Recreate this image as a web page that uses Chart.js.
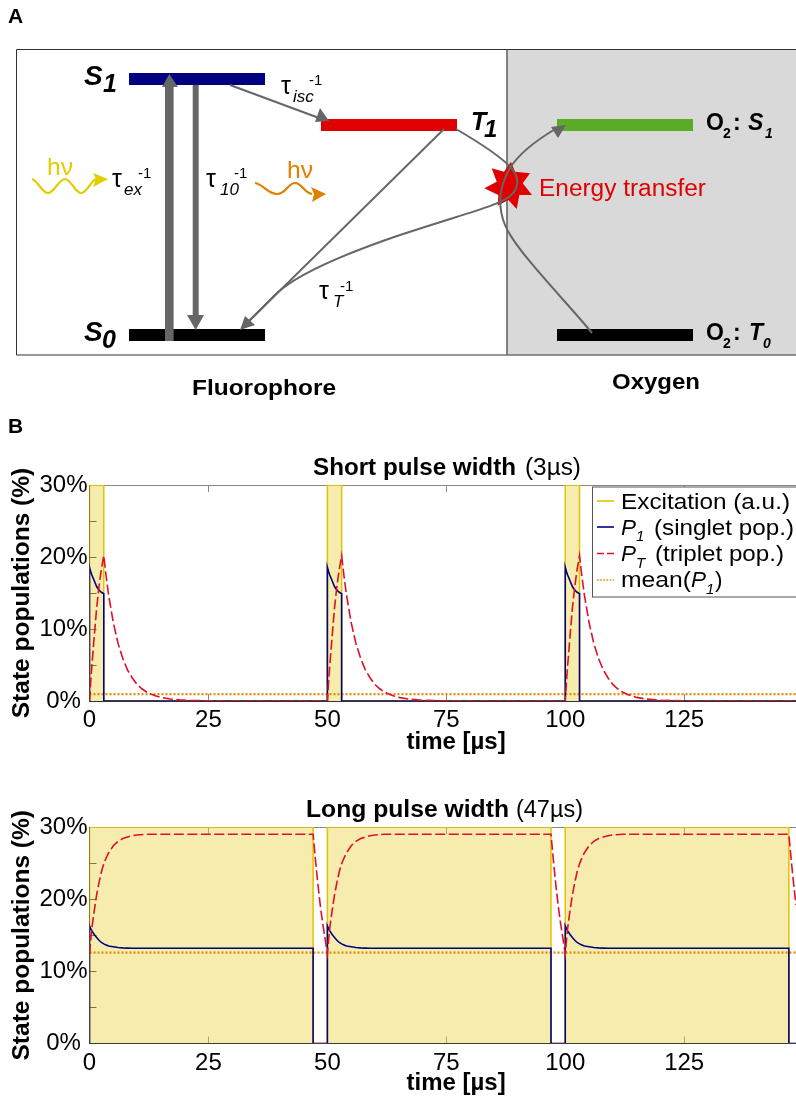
<!DOCTYPE html>
<html>
<head>
<meta charset="utf-8">
<script src="https://cdn.jsdelivr.net/npm/chart.js@4"></script>
<style>
html,body{margin:0;padding:0;background:#fff;width:796px;height:1096px;overflow:hidden}
canvas{position:absolute;left:0}
#c1{top:450px}
#c2{top:792px}
svg{position:absolute;left:0;top:0;pointer-events:none}
text{font-family:"Liberation Sans",Arial,sans-serif;fill:#000}
.b{font-weight:bold}.i{font-style:italic}.bi{font-weight:bold;font-style:italic}
.ar{fill:none;stroke:#666;stroke-width:2}
.ah{fill:#666}
</style>
</head>
<body>
<canvas id="c1" width="796" height="310"></canvas>
<canvas id="c2" width="796" height="304"></canvas>
<svg width="796" height="1096" viewBox="0 0 796 1096" xmlns="http://www.w3.org/2000/svg">
  <text x="8" y="23" class="b" font-size="21">A</text>
  <text x="8" y="433" class="b" font-size="21">B</text>
  <rect x="507" y="50" width="289" height="305" fill="#d9d9d9"/>
  <path d="M796,49.5H16.5V355H796" fill="none" stroke="#333" stroke-width="1"/>
  <line x1="507" y1="50" x2="507" y2="355" stroke="#666" stroke-width="1.6"/>
  <rect x="129" y="73" width="136" height="12" fill="#000080"/>
  <rect x="321" y="119" width="136" height="12" fill="#e00000"/>
  <rect x="129" y="329" width="136" height="12" fill="#000"/>
  <rect x="557" y="119" width="136" height="12" fill="#5aab27"/>
  <rect x="557" y="329" width="136" height="12" fill="#000"/>

  <rect x="165" y="85" width="8.6" height="256" class="ah"/>
  <polygon points="169.3,74 178,87 162,87" class="ah"/>
  <rect x="192.7" y="85" width="6" height="232" class="ah"/>
  <polygon points="195.7,330 187,315 204,315" class="ah"/>
  <line x1="230" y1="85" x2="319" y2="118" class="ar"/>
  <polygon points="329,121 315,122 320,108" class="ah"/>

  <polygon points="511,161.7 515,171.7 530,173.3 522.7,183.3 532,195 519.3,195 516.7,209 508.3,200 497.7,205.7 498.3,195 484.3,188.3 496.7,181.7 491.7,168.3 504,171.7" fill="#e00000"/>

  <line x1="444" y1="129" x2="247" y2="323" class="ar"/>
  <path class="ar" d="M456,129 C480,143 505,160 513,170 C520,180 518,190 510,196 C500,205 470,212 400,235 C350,252 300,272 277,293 L248,322"/>
  <polygon points="240,330 245,316 255,325" class="ah"/>
  <path class="ar" d="M592,333 C565,300 515,250 505,225 C497,205 500,185 510,168 C520,152 540,138 557,128"/>
  <polygon points="566,125 551,127 558,138" class="ah"/>

  <path d="M32,179 C38,181 42,193 48,193 S59,179 65,179 S75,193 81,193 S90,182 96,179" fill="none" stroke="#e3cc00" stroke-width="2.2"/>
  <polygon points="108,179 93,173 96,179 93,187" fill="#e3cc00"/>
  <path d="M255,183 C263,184 268,194 277,194 S288,183 295,183 S304,193 312,194" fill="none" stroke="#e08000" stroke-width="2.2"/>
  <polygon points="326,194 311,187 314,194 312,202" fill="#e08000"/>
  <text x="47" y="175" font-size="24" textLength="26" lengthAdjust="spacingAndGlyphs" style="fill:#e3cc00">hν</text>
  <text x="287" y="178" font-size="24" textLength="26" lengthAdjust="spacingAndGlyphs" style="fill:#e08000">hν</text>

  <text x="112" y="187" font-size="25">τ</text><text x="124" y="195" class="i" font-size="17">ex</text><text x="138" y="178" font-size="15">-1</text>
  <text x="206" y="187" font-size="25">τ</text><text x="220" y="195" class="i" font-size="17">10</text><text x="234" y="178" font-size="15">-1</text>
  <text x="281" y="94" font-size="25">τ</text><text x="293" y="102" class="i" font-size="17">isc</text><text x="309" y="85" font-size="15">-1</text>
  <text x="319" y="299" font-size="25">τ</text><text x="333" y="307" class="i" font-size="17">T</text><text x="340" y="291" font-size="15">-1</text>

  <text x="84" y="85" class="bi" font-size="28">S</text><text x="103" y="92" class="bi" font-size="25">1</text>
  <text x="84" y="341" class="bi" font-size="28">S</text><text x="102" y="348" class="bi" font-size="25">0</text>
  <text x="471" y="130" class="bi" font-size="25">T</text><text x="484" y="137" class="bi" font-size="24">1</text>
  <text x="706" y="130" class="b" font-size="23">O</text><text x="723" y="138" class="b" font-size="14">2</text><text x="733" y="130" class="b" font-size="23">:</text><text x="748" y="130" class="bi" font-size="23">S</text><text x="765" y="138" class="bi" font-size="14">1</text>
  <text x="706" y="340" class="b" font-size="23">O</text><text x="723" y="348" class="b" font-size="14">2</text><text x="733" y="340" class="b" font-size="23">:</text><text x="749" y="340" class="bi" font-size="23">T</text><text x="763" y="348" class="bi" font-size="14">0</text>

  <text x="539" y="196" font-size="23" textLength="167" lengthAdjust="spacingAndGlyphs" style="fill:#e00000">Energy transfer</text>
  <text x="192" y="395" class="b" font-size="22.5" textLength="144" lengthAdjust="spacingAndGlyphs">Fluorophore</text>
  <text x="612" y="389" class="b" font-size="22.5" textLength="88" lengthAdjust="spacingAndGlyphs">Oxygen</text>

  <text x="313" y="475" class="b" font-size="23" textLength="203" lengthAdjust="spacingAndGlyphs">Short pulse width</text>
  <text x="525" y="475" font-size="23" textLength="56" lengthAdjust="spacingAndGlyphs">(3µs)</text>
  <text x="306" y="817" class="b" font-size="23" textLength="203" lengthAdjust="spacingAndGlyphs">Long pulse width</text>
  <text x="516" y="817" font-size="23" textLength="67" lengthAdjust="spacingAndGlyphs">(47µs)</text>

  <rect x="592.5" y="487" width="210" height="110" fill="#fff" stroke="#555" stroke-width="1"/>
  <line x1="597" x2="614" y1="501" y2="501" stroke="#e0c400" stroke-width="1.6"/>
  <line x1="597" x2="614" y1="527" y2="527" stroke="#000080" stroke-width="1.6"/>
  <line x1="597" x2="614" y1="553.5" y2="553.5" stroke="#e0102a" stroke-width="1.4" stroke-dasharray="7 3"/>
  <line x1="597" x2="614" y1="580" y2="580" stroke="#e08a00" stroke-width="1.6" stroke-dasharray="1.6 1.6"/>
  <text x="621" y="508.5" font-size="22.5" textLength="169" lengthAdjust="spacingAndGlyphs">Excitation (a.u.)</text>
  <text x="621" y="534.5" font-size="22.5" class="i">P</text><text x="636" y="541" font-size="15" class="i">1</text><text x="654" y="534.5" font-size="22.5" textLength="140" lengthAdjust="spacingAndGlyphs">(singlet pop.)</text>
  <text x="621" y="561" font-size="22.5" class="i">P</text><text x="636" y="568" font-size="15" class="i">T</text><text x="655" y="561" font-size="22.5" textLength="129" lengthAdjust="spacingAndGlyphs">(triplet pop.)</text>
  <text x="621" y="587" font-size="22.5" textLength="70" lengthAdjust="spacingAndGlyphs">mean(</text><text x="691" y="587" font-size="22.5" class="i">P</text><text x="706" y="594" font-size="15" class="i">1</text><text x="715" y="587" font-size="22.5">)</text>
</svg>
<script>
const xTicks = [0, 25, 50, 75, 100, 125];
const yTicks = [0, 5, 10, 15, 20, 25, 30];
const yLabels = {0: '0% ', 10: '10%', 20: '20%', 30: '30%'};
const xMax = 148.5;
const meanTime = [0, 150];
const meanShort = [0.95, 0.95];
const meanLong = [12.6, 12.6];

const shortTime = [
  0,0,0.25,0.5,1,1.5,2,2.5,3,3,3.5,4,5,6,7,8,9,10,11,12,13,14,15,17,19,21,25,30,40,
  50,50,50.25,50.5,51,51.5,52,52.5,53,53,53.5,54,55,56,57,58,59,60,61,62,63,64,65,67,69,71,75,80,90,
  100,100,100.25,100.5,101,101.5,102,102.5,103,103,103.5,104,105,106,107,108,109,110,111,112,113,114,115,117,119,121,125,130,140,150];
const shortExc = [
  0,30,30,30,30,30,30,30,30,0,0,0,0,0,0,0,0,0,0,0,0,0,0,0,0,0,0,0,0,
  0,30,30,30,30,30,30,30,30,0,0,0,0,0,0,0,0,0,0,0,0,0,0,0,0,0,0,0,0,
  0,30,30,30,30,30,30,30,30,0,0,0,0,0,0,0,0,0,0,0,0,0,0,0,0,0,0,0,0,0];
const shortP1 = [
  0,18.6,18,17.5,16.7,15.9,15.4,15.1,14.9,0,0,0,0,0,0,0,0,0,0,0,0,0,0,0,0,0,0,0,0,
  0,18.6,18,17.5,16.7,15.9,15.4,15.1,14.9,0,0,0,0,0,0,0,0,0,0,0,0,0,0,0,0,0,0,0,0,
  0,18.6,18,17.5,16.7,15.9,15.4,15.1,14.9,0,0,0,0,0,0,0,0,0,0,0,0,0,0,0,0,0,0,0,0,0];
const shortPT = [
  0,0,2.6,4.9,9,12.9,15.9,18.3,20.2,20.2,17.3,14.8,10.9,8,5.9,4.3,3.2,2.3,1.7,1.25,0.95,0.7,0.5,0.27,0.15,0.08,0.02,0,0,
  0,0,2.6,4.9,9,12.9,15.9,18.3,20.2,20.2,17.3,14.8,10.9,8,5.9,4.3,3.2,2.3,1.7,1.25,0.95,0.7,0.5,0.27,0.15,0.08,0.02,0,0,
  0,0,2.6,4.9,9,12.9,15.9,18.3,20.2,20.2,17.3,14.8,10.9,8,5.9,4.3,3.2,2.3,1.7,1.25,0.95,0.7,0.5,0.27,0.15,0.08,0.02,0,0,0];

const longTime = [
  0,0,0.25,0.5,1,1.5,2,2.5,3,3.5,4,5,6,7,8,9,10,12,15,47,47,47.5,48,48.5,49,49.5,
  50,50,50.25,50.5,51,51.5,52,52.5,53,53.5,54,55,56,57,58,59,60,62,65,97,97,97.5,98,98.5,99,99.5,
  100,100,100.25,100.5,101,101.5,102,102.5,103,103.5,104,105,106,107,108,109,110,112,115,147,147,147.5,148,148.5,149,149.5];
const longExc = [
  0,30,30,30,30,30,30,30,30,30,30,30,30,30,30,30,30,30,30,30,0,0,0,0,0,0,
  0,30,30,30,30,30,30,30,30,30,30,30,30,30,30,30,30,30,30,30,0,0,0,0,0,0,
  0,30,30,30,30,30,30,30,30,30,30,30,30,30,30,30,30,30,30,30,0,0,0,0,0,0];
const longP1 = [
  0,16.3,15.9,15.6,15.1,14.7,14.3,14,13.8,13.65,13.5,13.4,13.3,13.25,13.22,13.2,13.2,13.2,13.2,13.2,0,0,0,0,0,0,
  0,16.3,15.9,15.6,15.1,14.7,14.3,14,13.8,13.65,13.5,13.4,13.3,13.25,13.22,13.2,13.2,13.2,13.2,13.2,0,0,0,0,0,0,
  0,16.3,15.9,15.6,15.1,14.7,14.3,14,13.8,13.65,13.5,13.4,13.3,13.25,13.22,13.2,13.2,13.2,13.2,13.2,0,0,0,0,0,0];
const longPT = [
  12.4,12.4,14.3,16,18.4,20.6,22.3,23.8,24.9,25.7,26.4,27.4,28,28.4,28.6,28.8,28.9,29,29,29,29,25.4,22.1,19.2,16.7,14.6,
  12.4,12.4,14.3,16,18.4,20.6,22.3,23.8,24.9,25.7,26.4,27.4,28,28.4,28.6,28.8,28.9,29,29,29,29,25.4,22.1,19.2,16.7,14.6,
  12.4,12.4,14.3,16,18.4,20.6,22.3,23.8,24.9,25.7,26.4,27.4,28,28.4,28.6,28.8,28.9,29,29,29,29,25.4,22.1,19.2,16.7,14.6];

const FONT = '"Liberation Sans", Arial, sans-serif';
const pts = (xs, ys) => xs.map((x, i) => ({x, y: ys[i]}));

function build(id, time, exc, p1, pt, mean, bottomH, titlePad) {
  return new Chart(document.getElementById(id), {
    type: 'line',
    data: {datasets: [
      {label: 'Excitation (a.u.)', data: pts(time, exc), borderColor: '#e0c400', borderWidth: 1.5,
       backgroundColor: 'rgba(230,210,60,0.42)', fill: 'origin', order: 4},
      {label: 'mean(P1)', data: pts(meanTime, mean), borderColor: '#e08a00', borderWidth: 2.2, borderDash: [2, 2], order: 3},
      {label: 'P1 (singlet pop.)', data: pts(time, p1), borderColor: '#000080', borderWidth: 1.6, order: 2},
      {label: 'PT (triplet pop.)', data: pts(time, pt), borderColor: '#e0102a', borderWidth: 1.6, borderDash: [10, 3.5], order: 1}
    ]},
    options: {
      responsive: false, animation: false, parsing: false, normalized: true,
      layout: {padding: 0},
      elements: {point: {radius: 0}, line: {tension: 0, borderCapStyle: 'butt', borderJoinStyle: 'miter'}},
      plugins: {legend: {display: false}, title: {display: false}, tooltip: {enabled: false}},
      scales: {
        x: {
          type: 'linear', position: 'bottom', min: 0, max: xMax,
          afterBuildTicks: a => { a.ticks = xTicks.map(v => ({value: v})); },
          afterFit: a => { a.height = bottomH; },
          border: {color: '#333', width: 1},
          grid: {drawOnChartArea: false, drawTicks: true, tickLength: -7, color: '#888'},
          ticks: {color: '#000', padding: 12, maxRotation: 0, autoSkip: false, font: {family: FONT, size: 24}, callback: v => String(v)},
          title: {display: true, text: '    time [µs]', color: '#000', font: {family: FONT, size: 24, weight: 'bold'}, padding: {top: 0, bottom: titlePad}}
        },
        xTop: {
          type: 'linear', position: 'top', min: 0, max: xMax,
          afterBuildTicks: a => { a.ticks = xTicks.map(v => ({value: v})); },
          afterFit: a => { a.height = 35; },
          border: {color: '#888', width: 1},
          grid: {drawOnChartArea: false, drawTicks: true, tickLength: -7, color: '#888'},
          ticks: {display: false}
        },
        y: {
          type: 'linear', position: 'left', min: 0, max: 30,
          afterBuildTicks: a => { a.ticks = yTicks.map(v => ({value: v})); },
          afterFit: a => { a.width = 89.5; },
          border: {color: '#333', width: 1},
          grid: {drawOnChartArea: false, drawTicks: true, tickLength: -7, color: '#333'},
          ticks: {color: '#000', padding: 9, autoSkip: false, font: {family: FONT, size: 24}, callback: v => yLabels[v] || ''},
          title: {display: true, text: 'State populations (%)', color: '#000', font: {family: FONT, size: 24.5, weight: 'bold'}, padding: {top: 8, bottom: 0}}
        }
      }
    }
  });
}

build('c1', shortTime, shortExc, shortP1, shortPT, meanShort, 59, 3);
build('c2', longTime, longExc, longP1, longPT, meanLong, 52.5, -2);
</script>
</body>
</html>
